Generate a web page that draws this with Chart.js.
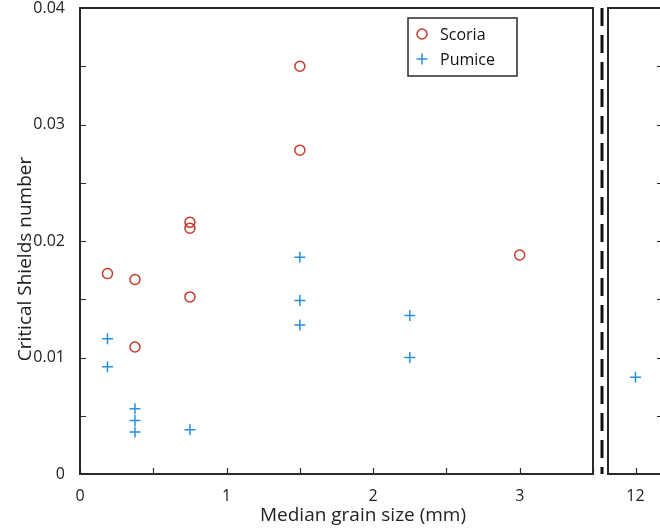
<!DOCTYPE html>
<html>
<head>
<meta charset="utf-8">
<script src="https://cdn.jsdelivr.net/npm/chart.js@4.4.1/dist/chart.umd.min.js"></script>
<style>
  body { margin: 0; background: #fff; }
  #wrap { position: relative; width: 660px; height: 530px; overflow: hidden; }
  #c1 { position: absolute; left: 0; top: 0; }
  #c2 { position: absolute; left: 600px; top: 0; }
</style>
</head>
<body>
<div id="wrap">
  <canvas id="c1" width="605" height="530"></canvas>
  <canvas id="c2" width="70" height="530"></canvas>
</div>
<script>
// Valores
const scoriaX = [0.1875, 0.375, 0.375, 0.75, 0.75, 0.75, 1.5, 1.5, 3.0];
const scoriaY = [0.0172, 0.0167, 0.0109, 0.0216, 0.0211, 0.0152, 0.0350, 0.0278, 0.0188];
const pumiceX = [0.1875, 0.1875, 0.375, 0.375, 0.375, 0.75, 1.5, 1.5, 1.5, 2.25, 2.25, 12];
const pumiceY = [0.0116, 0.0092, 0.0056, 0.0046, 0.0036, 0.0038, 0.0186, 0.0149, 0.0128, 0.0136, 0.0100, 0.0083];

const yTicks = [0, 0.005, 0.01, 0.015, 0.02, 0.025, 0.03, 0.035, 0.04];
const yTickLabels = ['0', '', '0.01', '', '0.02', '', '0.03', '', '0.04'];
const xTicksMain = [0, 0.5, 1, 1.5, 2, 2.5, 3, 3.5];
const xTickLabelsMain = ['0', '', '1', '', '2', '', '3', ''];
const xTicksBreak = [12];
const xTickLabelsBreak = ['12'];

const corScoria = '#c8382c';
const corPumice = '#2b8fe0';
const fonte = "'Open Sans', sans-serif";

function pontos(xs, ys, min, max) {
  const out = [];
  xs.forEach((x, i) => { if (x >= min && x <= max) out.push({ x: x, y: ys[i] }); });
  return out;
}

// moldura com ticks para dentro (estilo MATLAB)
const moldura = {
  id: 'moldura',
  afterDatasetsDraw(chart, args, opts) {
    const ctx = chart.ctx;
    const a = chart.chartArea;
    const x = chart.scales.x, y = chart.scales.y;
    ctx.save();
    ctx.strokeStyle = '#2a2a2a';
    ctx.lineWidth = 2;
    ctx.strokeRect(a.left, a.top, a.right - a.left, a.bottom - a.top);
    ctx.lineWidth = 1.2;
    ctx.beginPath();
    opts.xTicks.forEach(v => {
      const px = Math.round(x.getPixelForValue(v)) + 0.5;
      ctx.moveTo(px, a.bottom); ctx.lineTo(px, a.bottom - 6);
    });
    yTicks.forEach(v => {
      const py = Math.round(y.getPixelForValue(v)) + 0.5;
      if (opts.ladoY === 'left') { ctx.moveTo(a.left, py); ctx.lineTo(a.left + 6, py); }
      else { ctx.moveTo(a.right, py); ctx.lineTo(a.right - 6, py); }
    });
    ctx.stroke();
    if (opts.tracejado) {
      ctx.lineWidth = 3;
      ctx.strokeStyle = '#111';
      ctx.setLineDash([18, 9]);
      ctx.beginPath();
      ctx.moveTo(a.right + 9, a.top);
      ctx.lineTo(a.right + 9, a.bottom);
      ctx.stroke();
    }
    ctx.restore();
  }
};

// legenda e títulos dos eixos
const extras = {
  id: 'extras',
  afterDraw(chart) {
    const ctx = chart.ctx;
    const a = chart.chartArea;
    ctx.save();
    // legenda
    const bx = a.right - 185, by = a.top + 10, bw = 109, bh = 58;
    ctx.fillStyle = '#fff';
    ctx.fillRect(bx, by, bw, bh);
    ctx.strokeStyle = '#2a2a2a';
    ctx.lineWidth = 1.5;
    ctx.strokeRect(bx, by, bw, bh);
    ctx.font = '16px ' + fonte;
    ctx.textBaseline = 'middle';
    ctx.textAlign = 'left';
    chart.data.datasets.forEach((ds, i) => {
      const my = by + 16 + i * 25, mx = bx + 14;
      ctx.strokeStyle = ds.borderColor;
      ctx.lineWidth = 1.5;
      ctx.beginPath();
      if (ds.pointStyle === 'circle') {
        ctx.arc(mx, my, 5, 0, Math.PI * 2);
      } else {
        ctx.moveTo(mx - 5.5, my); ctx.lineTo(mx + 5.5, my);
        ctx.moveTo(mx, my - 5.5); ctx.lineTo(mx, my + 5.5);
      }
      ctx.stroke();
      ctx.fillStyle = '#111';
      ctx.fillText(ds.label, bx + 32, my + 1);
    });
    // títulos
    ctx.fillStyle = '#222';
    ctx.font = '19px ' + fonte;
    ctx.textAlign = 'center';
    ctx.fillText('Median grain size (mm)', 363, 516);
    ctx.translate(26, 259);
    ctx.rotate(-Math.PI / 2);
    ctx.fillText('Critical Shields number', 0, 0);
    ctx.restore();
  }
};

function eixoY(display) {
  return {
    type: 'linear', min: 0, max: 0.04, display: display,
    afterBuildTicks: s => { s.ticks = yTicks.map(v => ({ value: v })); },
    afterFit: s => { s.width = display ? 80 : 0; s.paddingTop = 0; s.paddingBottom = 0; },
    grid: { display: false }, border: { display: false },
    ticks: { padding: 7, color: '#222', font: { family: fonte, size: 16 }, autoSkip: false,
      callback: (v, i) => yTickLabels[i] }
  };
}

function eixoX(min, max, ticks, labels) {
  return {
    type: 'linear', min: min, max: max,
    afterBuildTicks: s => { s.ticks = ticks.map(v => ({ value: v })); },
    afterFit: s => { s.height = 56; s.paddingLeft = 0; s.paddingRight = 0; },
    grid: { display: false }, border: { display: false },
    ticks: { padding: 5, color: '#222', font: { family: fonte, size: 16 }, autoSkip: false, maxRotation: 0,
      callback: (v, i) => labels[i] }
  };
}

function conjuntos(min, max) {
  return [
    { label: 'Scoria', data: pontos(scoriaX, scoriaY, min, max), pointStyle: 'circle',
      borderColor: corScoria, backgroundColor: 'rgba(0,0,0,0)', pointRadius: 5, pointBorderWidth: 1.5 },
    { label: 'Pumice', data: pontos(pumiceX, pumiceY, min, max), pointStyle: 'cross',
      borderColor: corPumice, backgroundColor: corPumice, pointRadius: 5.5, pointBorderWidth: 1.5 }
  ];
}

new Chart(document.getElementById('c1').getContext('2d'), {
  type: 'scatter',
  data: { datasets: conjuntos(0, 3.5) },
  options: {
    responsive: false, animation: false,
    layout: { padding: { top: 8, right: 12, left: 0, bottom: 0 } },
    plugins: { legend: { display: false }, tooltip: { enabled: false },
      moldura: { ladoY: 'left', xTicks: xTicksMain, tracejado: true } },
    scales: { x: eixoX(0, 3.5, xTicksMain, xTickLabelsMain), y: eixoY(true) }
  },
  plugins: [moldura, extras]
});

new Chart(document.getElementById('c2').getContext('2d'), {
  type: 'scatter',
  data: { datasets: conjuntos(11.5, 12.5) },
  options: {
    responsive: false, animation: false,
    layout: { padding: { top: 8, right: 7, left: 8, bottom: 0 } },
    plugins: { legend: { display: false }, tooltip: { enabled: false },
      moldura: { ladoY: 'right', xTicks: xTicksBreak, tracejado: false } },
    scales: { x: eixoX(11.5, 12.5, xTicksBreak, xTickLabelsBreak), y: eixoY(false) }
  },
  plugins: [moldura]
});
</script>
</body>
</html>
